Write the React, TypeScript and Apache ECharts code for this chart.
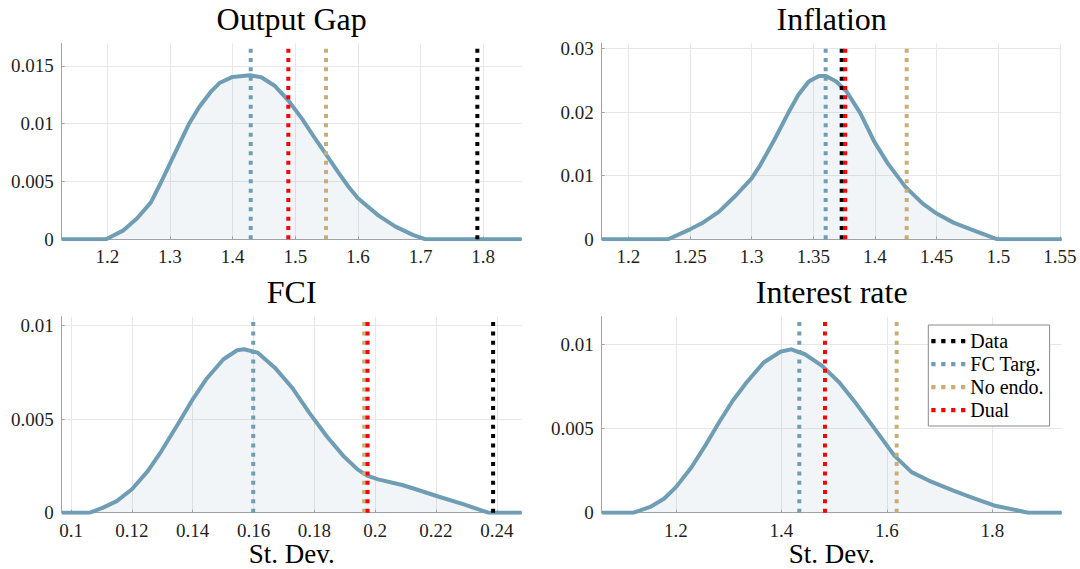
import React, { useEffect, useRef } from 'react';
import * as echarts from 'echarts';

const FONT = 'Liberation Serif, Times New Roman, serif';

// ---- data ----
const panelTitles = ['Output Gap', 'Inflation', 'FCI', 'Interest rate'];
const xAxisTitle = 'St. Dev.';
const lineNames = ['Data', 'FC Targ.', 'No endo.', 'Dual'];
const lineColors = ['#000000', '#6F9DB3', '#C8AD74', '#FF0000'];

const xMins = [1.1272, 1.1784, 0.0969, 1.0591];
const xMaxs = [1.8614, 1.5514, 0.2482, 1.9316];
const yMaxs = [0.01696, 0.0308, 0.01046, 0.01164];
const yIntervals = [0.005, 0.01, 0.005, 0.005];
const xSplitNumbers = [7, 7, 7, 4];

// kernel density estimates [St. Dev., density]
const densOutputGap = [
  [1.198, 0], [1.225, 0.00075], [1.2476, 0.00182], [1.2696, 0.0032], [1.285, 0.00485], [1.3, 0.00655],
  [1.33, 0.00995], [1.3467, 0.01145], [1.365, 0.01275], [1.3797, 0.01355], [1.4, 0.01405],
  [1.4275, 0.01419], [1.4457, 0.01402], [1.4677, 0.01326], [1.4898, 0.01196], [1.5117, 0.01036],
  [1.53, 0.00885], [1.5475, 0.00747], [1.5695, 0.00573], [1.585, 0.00455], [1.6, 0.00356],
  [1.633, 0.00205], [1.66, 0.0011], [1.6877, 0.00038], [1.708, 0],
];
const densInflation = [
  [1.2322, 0], [1.25, 0.00157], [1.2596, 0.00251], [1.2736, 0.00435], [1.2875, 0.00696],
  [1.3, 0.00958], [1.3071, 0.0117], [1.3183, 0.0156], [1.3295, 0.0198], [1.3379, 0.0227],
  [1.3463, 0.0248], [1.3546, 0.02565], [1.3602, 0.02565], [1.3686, 0.0248], [1.377, 0.0232],
  [1.3882, 0.0198], [1.3994, 0.01534], [1.4105, 0.0119], [1.4245, 0.00827], [1.4385, 0.00565],
  [1.4497, 0.00408], [1.4636, 0.00262], [1.4804, 0.00136], [1.4994, 0],
];
const densFCI = [
  [0.1062, 0], [0.1105, 0.00027], [0.115, 0.00062], [0.12, 0.00125], [0.1252, 0.00222],
  [0.1297, 0.00329], [0.1354, 0.0048], [0.14, 0.00605], [0.1444, 0.00712], [0.1501, 0.00819],
  [0.1546, 0.00867], [0.1569, 0.00872], [0.1614, 0.00854], [0.167, 0.00774], [0.1727, 0.00667],
  [0.1783, 0.00534], [0.184, 0.00409], [0.1896, 0.00302], [0.1942, 0.00231], [0.1976, 0.00196],
  [0.201, 0.00178], [0.2089, 0.00148], [0.2134, 0.00125], [0.2202, 0.00089], [0.2292, 0.00044],
  [0.2372, 0],
];
const densInterest = [
  [1.1198, 0], [1.1511, 0.00034], [1.1772, 0.00083], [1.2, 0.00152], [1.2294, 0.0027],
  [1.2555, 0.00398], [1.2815, 0.00536], [1.3076, 0.00665], [1.3337, 0.00773], [1.3663, 0.00892],
  [1.399, 0.00957], [1.4185, 0.0097], [1.4446, 0.00941], [1.4772, 0.00872], [1.5098, 0.00773],
  [1.5424, 0.00645], [1.575, 0.00507], [1.6142, 0.00339], [1.6468, 0.00241], [1.6794, 0.00191],
  [1.725, 0.00132], [1.7641, 0.00087], [1.8033, 0.00043], [1.8685, 0],
];

// vertical markers in order Data, FC Targ., No endo., Dual (null = not drawn)
const vlOutputGap = [1.7906, 1.4289, 1.5491, 1.4889];
const vlInflation = [1.373, 1.36, 1.4257, 1.3759];
const vlFCI = [0.2388, 0.1599, 0.1964, 0.1975];
const vlInterest = [null, 1.4339, 1.6186, 1.4826];

const densities = [densOutputGap, densInflation, densFCI, densInterest];
const verticals = [vlOutputGap, vlInflation, vlFCI, vlInterest];

// ---- layout ----
const gridLefts = [61.7, 601.7, 61.7, 601.7];
const gridTops = [43.3, 43.3, 316.7, 316.7];
const GRID_W = 460;
const GRID_H = 196;

const AXIS_GRAY = '#a3a3a3';
const GRID_GRAY = '#e7e7e7';
const TEXT = '#1f1f1f';
const CURVE = '#6F9DB3';

const legendIcon = 'path://M0,0h4v4h-4z M9.33,0h4v4h-4z M18.67,0h4v4h-4z M28,0h4v4h-4z';

export default function App() {
  const ref = useRef<HTMLDivElement>(null);

  useEffect(() => {
    if (!ref.current) return;
    const chart = echarts.init(ref.current, null, { renderer: 'svg' });

    const grid = gridLefts.map((l, i) => ({
      left: l, top: gridTops[i], width: GRID_W, height: GRID_H, containLabel: false,
    }));

    const labelStyle = {
      fontFamily: FONT, fontSize: 19, fontWeight: 'normal', fontStyle: 'normal', color: TEXT, margin: 8,
    };

    const xAxis = xMins.map((mn, i) => ({
      type: 'value', gridIndex: i, min: mn, max: xMaxs[i], splitNumber: xSplitNumbers[i],
      axisLine: { show: true, onZero: false, lineStyle: { color: AXIS_GRAY, width: 1 } },
      axisTick: { show: true, inside: true, length: 3, lineStyle: { color: AXIS_GRAY } },
      axisLabel: { ...labelStyle, showMinLabel: false, showMaxLabel: false },
      splitLine: { show: true, showMinLine: false, showMaxLine: false, lineStyle: { color: GRID_GRAY, width: 1 } },
    }));

    const yAxis = yMaxs.map((mx, i) => ({
      type: 'value', gridIndex: i, min: 0, max: mx, interval: yIntervals[i],
      axisLine: { show: true, lineStyle: { color: AXIS_GRAY, width: 1 } },
      axisTick: { show: true, inside: true, length: 3, lineStyle: { color: AXIS_GRAY } },
      axisLabel: { ...labelStyle, showMinLabel: true, showMaxLabel: false },
      splitLine: { show: true, showMinLine: false, showMaxLine: false, lineStyle: { color: GRID_GRAY, width: 1 } },
    }));

    const series: any[] = [];
    densities.forEach((d, i) => {
      const pts = [[xMins[i], 0], ...d, [xMaxs[i], 0]];
      series.push({
        type: 'line', name: 'density' + i, xAxisIndex: i, yAxisIndex: i,
        data: pts, showSymbol: false, symbol: 'none',
        smooth: false,
        lineStyle: { color: CURVE, width: 4, join: 'round' },
        itemStyle: { color: CURVE },
        areaStyle: { color: 'rgba(111,157,179,0.14)', origin: 0 },
        z: 2,
      });
    });
    verticals.forEach((vals, i) => {
      vals.forEach((v, k) => {
        if (v === null) return;
        series.push({
          type: 'line', name: lineNames[k], xAxisIndex: i, yAxisIndex: i,
          data: [[v, 0], [v, yMaxs[i]]], showSymbol: false, symbol: 'none',
          lineStyle: { color: lineColors[k], width: 4, type: [4, 5.33], cap: 'butt' },
          itemStyle: { color: lineColors[k] },
          z: 3 + k,
        });
      });
    });

    const title: any[] = panelTitles.map((t, i) => ({
      text: t, left: gridLefts[i] + GRID_W / 2, top: i < 2 ? 2.5 : 276, textAlign: 'center', padding: 0,
      textStyle: { fontFamily: FONT, fontSize: 32, fontWeight: 'normal', color: '#000' },
    }));
    [2, 3].forEach((i) => {
      title.push({
        text: xAxisTitle, left: gridLefts[i] + GRID_W / 2, top: 540.5, textAlign: 'center', padding: 0,
        textStyle: { fontFamily: FONT, fontSize: 27, fontWeight: 'normal', color: '#000' },
      });
    });

    chart.setOption({
      animation: false,
      backgroundColor: '#ffffff',
      textStyle: { fontFamily: FONT, fontWeight: 'normal' },
      title,
      grid,
      xAxis,
      yAxis,
      legend: {
        data: lineNames.map((n) => ({ name: n, icon: legendIcon })),
        orient: 'vertical', left: 928.3, top: 325,
        itemWidth: 34, itemHeight: 4.25, itemGap: 3,
        padding: [6, 6, 6, 3],
        backgroundColor: '#ffffff', borderColor: '#8a8a8a', borderWidth: 1, borderRadius: 0,
        itemStyle: { borderWidth: 0 },
        selectedMode: false,
        textStyle: { fontFamily: FONT, fontWeight: 'normal', fontSize: 20, color: '#000', lineHeight: 20 },
      },
      series,
    });

    return () => chart.dispose();
  }, []);

  return (
    <div
      ref={ref}
      style={{ position: 'absolute', left: 0, top: 0, width: 1080, height: 569, background: '#fff' }}
    />
  );
}
